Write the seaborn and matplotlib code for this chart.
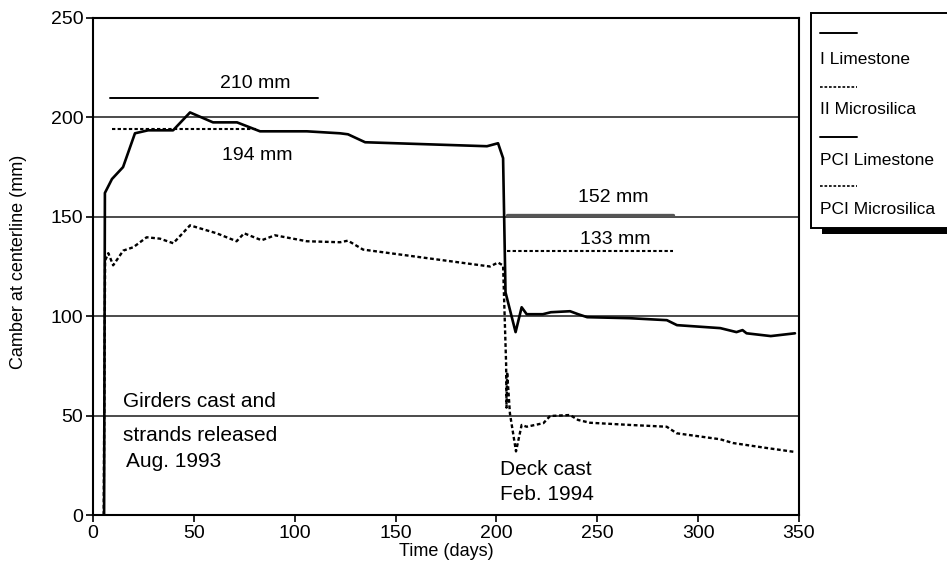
import numpy as np
import pandas as pd
import matplotlib
matplotlib.use("Agg")
import matplotlib.pyplot as plt
import seaborn as sns
from matplotlib.lines import Line2D
from matplotlib.patches import Rectangle

# ---- data ----
limestone_days = [5.5, 5.9, 9.4, 14.9, 20.8, 27.3, 39.7, 48.1, 59.5, 71.4, 82.8, 106, 122.5,
                  126.4, 134.9, 195.3, 200.8, 203.3, 204.5, 206.5, 209.5, 212.5, 215, 223,
                  227, 236.5, 240.5, 245, 266, 284.5, 289.5, 311, 315, 319, 322, 324, 336, 348]
limestone_camber = [0, 162, 169, 175, 192, 193.5, 193.5, 202.5, 197.5, 197.5, 193, 193, 192,
                    191.5, 187.5, 185.5, 187, 179.5, 112, 104, 92, 104.5, 101, 101,
                    102, 102.5, 101, 99.5, 99, 98, 95.5, 94, 93, 92, 93, 91.4, 90, 91.4]

microsilica_days = [5.3, 6.0, 7.6, 10, 15, 20, 26.6, 33.2, 39.8, 48.1, 61.3, 71.2, 74.9, 83.6,
                    90.2, 106, 122.5, 126.4, 133.9, 196.8, 200.8, 203.3, 204.8, 205.0, 205.3,
                    206.7, 209.7, 212.5, 215, 223.3, 226.6, 236.5, 240.5, 246.4, 266.2, 284.4,
                    289.4, 310.9, 317.3, 334, 348]
microsilica_camber = [0, 128, 131.7, 125.6, 133, 134.7, 139.7, 139, 136.7, 145.7, 141.7, 137.7,
                      141.7, 138.2, 140.7, 137.7, 137.2, 138, 133.5, 125, 127, 125.5, 76, 54, 72,
                      51, 32, 45.3, 44.4, 46.2, 49.8, 50.3, 47.8, 46.4, 45.3, 44.4,
                      41.1, 38.1, 36.2, 33.7, 31.7]

legend_labels = ["I Limestone", "II Microsilica", "PCI Limestone", "PCI Microsilica"]
x_ticks = [0, 50, 100, 150, 200, 250, 300, 350]
y_ticks = [0, 50, 100, 150, 200, 250]
grid_levels = [50, 100, 150, 200]

ref_210 = 210
ref_194 = 194
ref_152 = 152
ref_133 = 133

# ---- style ----
sns.set_theme(style="white")
plt.rcParams["font.family"] = ["Liberation Sans", "DejaVu Sans"]
plt.rcParams["text.color"] = "black"
plt.rcParams["axes.labelcolor"] = "black"
plt.rcParams["xtick.color"] = "black"
plt.rcParams["ytick.color"] = "black"

W, H = 947, 572
fig = plt.figure(figsize=(W / 100, H / 100), dpi=100)
ax = fig.add_axes([93 / W, 1 - 515 / H, (799 - 93) / W, (515 - 18) / H])

dotted = (0, (1.6, 1.1))

df_l = pd.DataFrame({"day": limestone_days, "camber": limestone_camber})
df_m = pd.DataFrame({"day": microsilica_days, "camber": microsilica_camber})

for lv in grid_levels:
    ax.axhline(lv, color="#1a1a1a", lw=1.1, zorder=1)

sns.lineplot(data=df_l, x="day", y="camber", sort=False, estimator=None,
             color="black", lw=1.9, ax=ax, zorder=3)
sns.lineplot(data=df_m, x="day", y="camber", sort=False, estimator=None,
             color="black", lw=1.7, linestyle=dotted, ax=ax, zorder=3)

# reference lines
ax.plot([8.4, 111.5], [ref_210, ref_210], color="black", lw=1.4)
ax.plot([9.4, 81.3], [ref_194, ref_194], color="black", lw=1.5, linestyle=dotted)
ax.plot([205.3, 287.6], [ref_152 - 1.0, ref_152 - 1.0], color="#555555", lw=2.4)
ax.plot([205.3, 287.6], [ref_133, ref_133], color="black", lw=1.5, linestyle=dotted)

fs_ann = 14
fs_evt = 15
ax.text(80.5, 212.8, f"{ref_210} mm", ha="center", va="bottom", fontsize=fs_ann)
ax.text(81.3, 181, f"{ref_194} mm", ha="center", va="center", fontsize=fs_ann)
ax.text(257.8, 159.5, f"{ref_152} mm", ha="center", va="center", fontsize=fs_ann)
ax.text(258.8, 138.8, f"{ref_133} mm", ha="center", va="center", fontsize=fs_ann)

ax.text(14.9, 57.0, "Girders cast and", ha="left", va="center", fontsize=fs_evt)
ax.text(14.9, 40.0, "strands released", ha="left", va="center", fontsize=fs_evt)
ax.text(16.4, 27.0, "Aug. 1993", ha="left", va="center", fontsize=fs_evt)
ax.text(201.8, 23.0, "Deck cast", ha="left", va="center", fontsize=fs_evt)
ax.text(201.8, 10.5, "Feb. 1994", ha="left", va="center", fontsize=fs_evt)

ax.set_xlim(0, 350)
ax.set_ylim(0, 250)
ax.set_xticks(x_ticks)
ax.set_yticks(y_ticks)
ax.tick_params(axis="both", direction="out", length=5, width=1.2, color="black",
               labelcolor="black", labelsize=14, pad=2, bottom=True, left=True)
ax.set_xlabel("Time (days)", fontsize=13, labelpad=1, color="black")
ax.set_ylabel("Camber at centerline (mm)", fontsize=13, color="black")
ax.yaxis.set_label_coords(-0.093, 0.51)
for s in ax.spines.values():
    s.set_color("black")
    s.set_linewidth(1.5)
    s.set_visible(True)

# ---- legend (box with handle above each label) ----
fig.patches.append(Rectangle((822 / W, 1 - 234 / H), 200 / W, 6 / H, transform=fig.transFigure,
                             facecolor="black", edgecolor="none", zorder=5))
fig.patches.append(Rectangle((811 / W, 1 - 228 / H), 200 / W, 215 / H, transform=fig.transFigure,
                             facecolor="white", edgecolor="black", lw=1.4, zorder=6))
line_y = [33, 87, 137, 186]
text_y = [60, 110, 160, 209]
styles = ["-", dotted, "-", dotted]
for lab, ly, ty, st in zip(legend_labels, line_y, text_y, styles):
    fig.lines.append(Line2D([820 / W, 857 / W], [1 - ly / H, 1 - ly / H], transform=fig.transFigure,
                            color="black", lw=1.4 if st == "-" else 1.2, linestyle=st, zorder=7))
    fig.text(820 / W, 1 - ty / H, lab, ha="left", va="center", fontsize=12.5, zorder=7,
             color="black")

fig.savefig("out.png", dpi=100)
